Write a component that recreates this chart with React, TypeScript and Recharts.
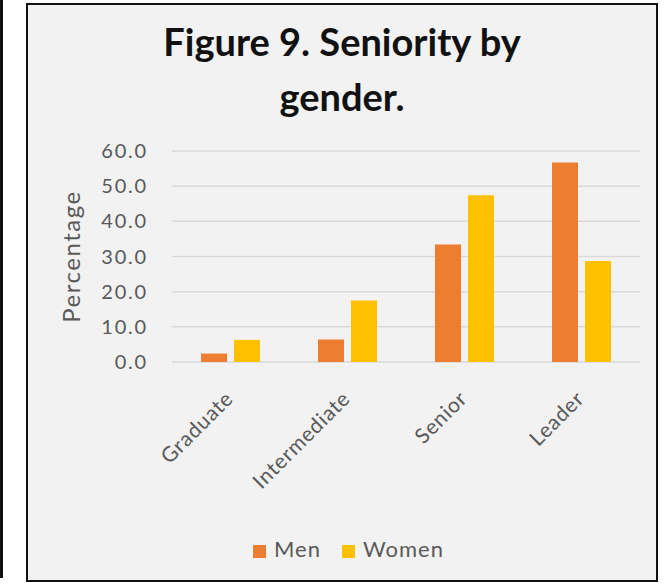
import { BarChart, Bar, XAxis, YAxis, CartesianGrid, Legend, Label } from 'recharts';

const categories = ['Graduate', 'Intermediate', 'Senior', 'Leader'];
const men = [2.4, 6.4, 33.4, 56.7];
const women = [6.3, 17.5, 47.4, 28.7];
const yTicks = [0, 10, 20, 30, 40, 50, 60];

const series = [
  { key: 'men', name: 'Men', color: '#ED7D31' },
  { key: 'women', name: 'Women', color: '#FFC000' },
];

const data = categories.map((level, i) => ({ level, men: men[i], women: women[i] }));

const FONT = 'Lato, "Open Sans", sans-serif';
const TEXT_GREY = '#595959';

// category names run up to the right, ending just past the group centre
function SlantTick(props: any) {
  const { x, y, payload } = props;
  return (
    <text
      x={0}
      y={0}
      transform={`translate(${x + 4},${y + 30}) rotate(-45)`}
      textAnchor="end"
      fill={TEXT_GREY}
      fontSize={21}
      fontFamily={FONT}
      letterSpacing={0.8}
    >
      {payload.value}
    </text>
  );
}

function LegendRow() {
  return (
    <div
      style={{
        display: 'flex',
        justifyContent: 'center',
        alignItems: 'center',
        paddingLeft: 30,
        fontFamily: FONT,
        fontSize: 22,
        letterSpacing: 1,
        color: TEXT_GREY,
        lineHeight: 1,
      }}
    >
      {series.map((s, i) => (
        <span key={s.key} style={{ display: 'flex', alignItems: 'center', marginLeft: i ? 21 : 0 }}>
          <span style={{ width: 13, height: 13, background: s.color, marginRight: 8, marginTop: 5 }} />
          {s.name}
        </span>
      ))}
    </div>
  );
}

export default function App() {
  return (
    <div style={{ position: 'absolute', left: 0, top: 0, width: 667, height: 583, background: '#fff', overflow: 'hidden' }}>
      <div style={{ position: 'absolute', left: 0, top: 0, width: 2.5, height: 578, background: '#111' }} />
      <div
        style={{
          position: 'absolute',
          left: 26,
          top: 3,
          width: 632,
          height: 579,
          boxSizing: 'border-box',
          border: '2.5px solid #111',
          background: '#F2F2F2',
        }}
      />
      <div
        style={{
          position: 'absolute',
          left: 26,
          top: 14,
          width: 632,
          textAlign: 'center',
          fontFamily: FONT,
          fontWeight: 700,
          fontSize: 38,
          lineHeight: '55px',
          color: '#111',
        }}
      >
        Figure 9. Seniority by
        <br />
        gender.
      </div>
      <div style={{ position: 'absolute', left: 0, top: 0 }}>
        <BarChart
          width={667}
          height={583}
          data={data}
          margin={{ top: 151, right: 27, bottom: 121, left: 71 }}
          barSize={26}
          barGap={7}
        >
          <CartesianGrid vertical={false} stroke="#D9D9D9" strokeWidth={1.5} />
          <XAxis
            dataKey="level"
            height={100}
            axisLine={false}
            tickLine={false}
            interval={0}
            tick={<SlantTick />}
          />
          <YAxis
            width={101}
            domain={[0, 60]}
            ticks={yTicks}
            axisLine={false}
            tickLine={false}
            tickMargin={18}
            tickFormatter={(v: number) => v.toFixed(1)}
            tick={{ fill: TEXT_GREY, fontSize: 20, fontFamily: FONT, letterSpacing: 1.8 }}
          >
            <Label
              value="Percentage"
              angle={-90}
              position="insideLeft"
              offset={0}
              style={{ textAnchor: 'middle', fill: TEXT_GREY, fontSize: 24, fontFamily: FONT, letterSpacing: 1.5 }}
            />
          </YAxis>
          <Legend
            verticalAlign="middle"
            wrapperStyle={{ left: 0, top: 538, width: 667 }}
            content={<LegendRow />}
          />
          {series.map((s) => (
            <Bar key={s.key} dataKey={s.key} name={s.name} fill={s.color} isAnimationActive={false} />
          ))}
        </BarChart>
      </div>
    </div>
  );
}
